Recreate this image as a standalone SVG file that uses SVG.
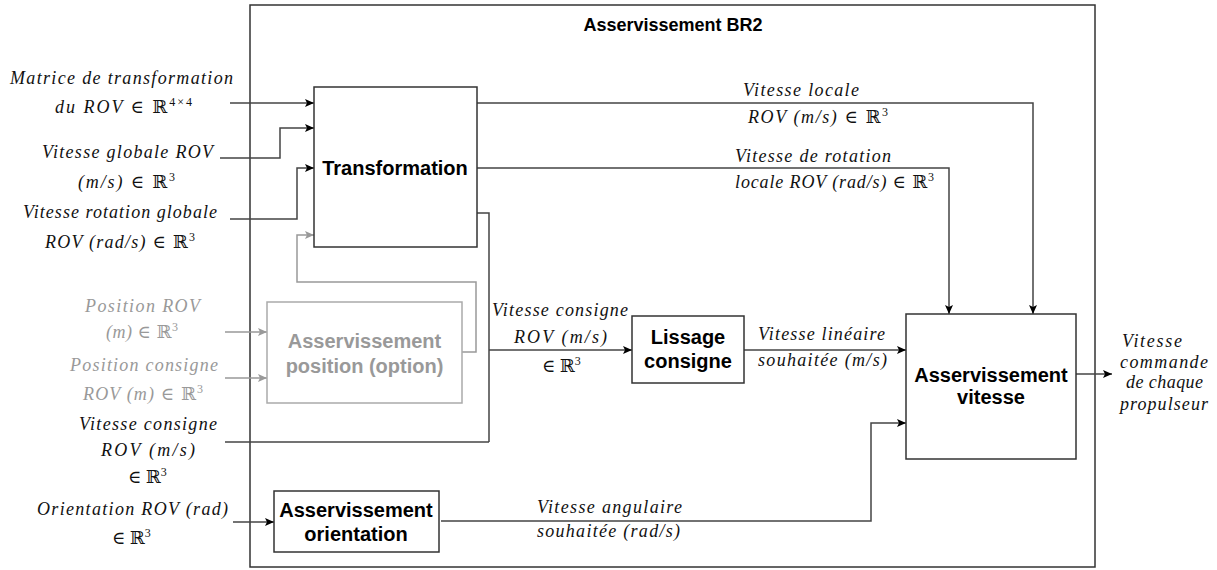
<svg xmlns="http://www.w3.org/2000/svg" width="1217" height="570" viewBox="0 0 1217 570">
<style>
.m{font-family:"Liberation Serif","DejaVu Serif",serif;font-style:italic;font-size:18px;fill:#111}
.g{fill:#999}
.n{font-style:normal}
.sup{font-size:12px;font-style:normal}
.b{font-family:"Liberation Sans",Arial,sans-serif;font-weight:bold;font-size:20px;text-anchor:middle;fill:#000}
.gb{fill:#999}
.box{fill:#fff;stroke:#333;stroke-width:1.5}
.gbox{fill:#fff;stroke:#aaa;stroke-width:1.5}
.ln{fill:none;stroke:#444;stroke-width:1.5}
.gln{fill:none;stroke:#999;stroke-width:1.5}
</style>
<defs>
<marker id="ab" markerWidth="10" markerHeight="10" refX="9" refY="5" orient="auto" markerUnits="userSpaceOnUse">
<path d="M0,1 L9,5 L0,9 L2,5 z" fill="#000"/>
</marker>
<marker id="ag" markerWidth="10" markerHeight="10" refX="9" refY="5" orient="auto" markerUnits="userSpaceOnUse">
<path d="M0,1 L9,5 L0,9 L2,5 z" fill="#999"/>
</marker>
</defs>
<rect width="1217" height="570" fill="#fff"/>

<g id="outer">
<rect x="250" y="5" width="845" height="562" fill="none" stroke="#333" stroke-width="1.5"/>
<text class="b" x="673" y="31" style="font-size:18px">Asservissement BR2</text>
</g>

<g id="connectors">
<path class="ln" d="M230,103 H314" marker-end="url(#ab)"/>
<path class="ln" d="M220,158 H280 V128 H314" marker-end="url(#ab)"/>
<path class="ln" d="M230,219 H297 V168 H314" marker-end="url(#ab)"/>
<path class="gln" d="M462,352 H476 V282 H297 V235 H314" marker-end="url(#ag)"/>
<path class="gln" d="M225,332 H267" marker-end="url(#ag)"/>
<path class="gln" d="M225,378 H267" marker-end="url(#ag)"/>
<path class="ln" d="M477,103 H1033 V314" marker-end="url(#ab)"/>
<path class="ln" d="M477,168 H949 V314" marker-end="url(#ab)"/>
<path class="ln" d="M477,213 H489 V442"/>
<path class="ln" d="M225,442 H489"/>
<path class="ln" d="M489,350 H632" marker-end="url(#ab)"/>
<path class="ln" d="M744,350 H906" marker-end="url(#ab)"/>
<path class="ln" d="M441,521 H871 V423 H906" marker-end="url(#ab)"/>
<path class="ln" d="M233,522 H274" marker-end="url(#ab)"/>
<path class="ln" d="M1076,374 H1112" marker-end="url(#ab)"/>
</g>

<g id="transformation">
<rect class="box" x="314" y="87" width="163" height="160"/>
<text class="b" x="395" y="175">Transformation</text>
</g>

<g id="position">
<rect class="gbox" x="267" y="302" width="195" height="101"/>
<text class="b gb" x="364.5" y="348">Asservissement</text>
<text class="b gb" x="364.5" y="373">position (option)</text>
</g>

<g id="lissage">
<rect class="box" x="632" y="316" width="112" height="67"/>
<text class="b" x="688" y="344">Lissage</text>
<text class="b" x="688" y="368">consigne</text>
</g>

<g id="vitesse">
<rect class="box" x="906" y="314" width="170" height="145"/>
<text class="b" x="991" y="382">Asservissement</text>
<text class="b" x="991" y="404">vitesse</text>
</g>

<g id="orientation">
<rect class="box" x="274" y="491" width="165" height="61"/>
<text class="b" x="356" y="517">Asservissement</text>
<text class="b" x="356" y="541">orientation</text>
</g>

<g id="labels">
<text class="m" x="10" y="84" textLength="223" lengthAdjust="spacing">Matrice de transformation</text>
<text class="m" x="55" y="113" textLength="137" lengthAdjust="spacing">du ROV <tspan class="n">∈ ℝ</tspan><tspan class="sup" dy="-7">4×4</tspan></text>
<text class="m" x="42" y="158" textLength="171" lengthAdjust="spacing">Vitesse globale ROV</text>
<text class="m" x="78" y="188" textLength="97" lengthAdjust="spacing">(m/s) <tspan class="n">∈ ℝ</tspan><tspan class="sup" dy="-7">3</tspan></text>
<text class="m" x="23" y="218" textLength="194" lengthAdjust="spacing">Vitesse rotation globale</text>
<text class="m" x="45" y="248" textLength="150" lengthAdjust="spacing">ROV (rad/s) <tspan class="n">∈ ℝ</tspan><tspan class="sup" dy="-7">3</tspan></text>
<text class="m g" x="85" y="312" textLength="115" lengthAdjust="spacing">Position ROV</text>
<text class="m g" x="106" y="338" textLength="72" lengthAdjust="spacing">(m) <tspan class="n">∈ ℝ</tspan><tspan class="sup" dy="-7">3</tspan></text>
<text class="m g" x="70" y="371" textLength="148" lengthAdjust="spacing">Position consigne</text>
<text class="m g" x="83" y="400" textLength="120" lengthAdjust="spacing">ROV (m) <tspan class="n">∈ ℝ</tspan><tspan class="sup" dy="-7">3</tspan></text>
<text class="m" x="79" y="430" textLength="138" lengthAdjust="spacing">Vitesse consigne</text>
<text class="m" x="101" y="456" textLength="94" lengthAdjust="spacing">ROV (m/s)</text>
<text class="m" x="128" y="483"><tspan class="n">∈ ℝ</tspan><tspan class="sup" dy="-7">3</tspan></text>
<text class="m" x="37" y="515" textLength="191" lengthAdjust="spacing">Orientation ROV (rad)</text>
<text class="m" x="112" y="544"><tspan class="n">∈ ℝ</tspan><tspan class="sup" dy="-7">3</tspan></text>

<text class="m" x="743" y="96" textLength="116" lengthAdjust="spacing">Vitesse locale</text>
<text class="m" x="748" y="123" textLength="140" lengthAdjust="spacing">ROV (m/s)  <tspan class="n">∈ ℝ</tspan><tspan class="sup" dy="-7">3</tspan></text>
<text class="m" x="735" y="162" textLength="156" lengthAdjust="spacing">Vitesse de rotation</text>
<text class="m" x="735" y="188" textLength="199" lengthAdjust="spacing">locale ROV (rad/s)  <tspan class="n">∈ ℝ</tspan><tspan class="sup" dy="-7">3</tspan></text>

<text class="m" x="492" y="316" textLength="136" lengthAdjust="spacing">Vitesse consigne</text>
<text class="m" x="514" y="343" textLength="93" lengthAdjust="spacing">ROV (m/s)</text>
<text class="m" x="542" y="372"><tspan class="n">∈ ℝ</tspan><tspan class="sup" dy="-7">3</tspan></text>

<text class="m" x="758" y="340" textLength="127" lengthAdjust="spacing">Vitesse linéaire</text>
<text class="m" x="758" y="366" textLength="129" lengthAdjust="spacing">souhaitée (m/s)</text>

<text class="m" x="537" y="513" textLength="145" lengthAdjust="spacing">Vitesse angulaire</text>
<text class="m" x="537" y="537" textLength="143" lengthAdjust="spacing">souhaitée (rad/s)</text>

<text class="m" x="1122" y="347" textLength="60" lengthAdjust="spacing">Vitesse</text>
<text class="m" x="1120" y="368" textLength="88" lengthAdjust="spacing">commande</text>
<text class="m" x="1126" y="388" textLength="77" lengthAdjust="spacing">de chaque</text>
<text class="m" x="1120" y="410" textLength="88" lengthAdjust="spacing">propulseur</text>
</g>
</svg>
